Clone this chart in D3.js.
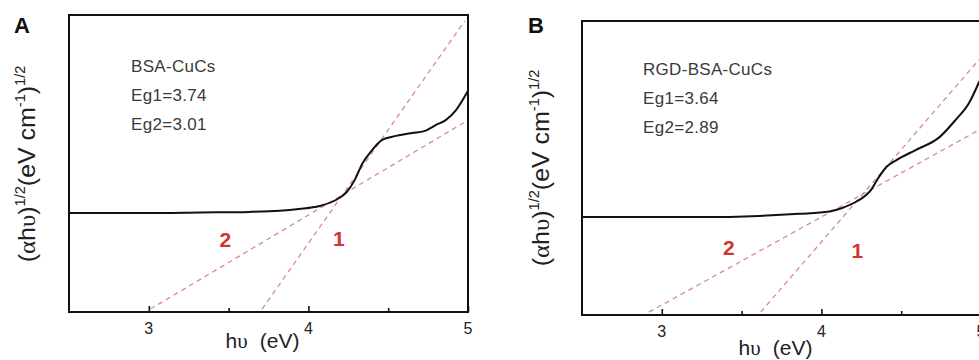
<!DOCTYPE html>
<html lang="en">
<head>
<meta charset="utf-8">
<title>Tauc plots: BSA-CuCs and RGD-BSA-CuCs</title>
<script src="https://cdnjs.cloudflare.com/ajax/libs/d3/7.8.5/d3.min.js"></script>
<style>
  body { margin: 0; background: #fff; }
  svg { display: block; font-family: "Liberation Sans", Arial, sans-serif; }
  .frame { fill: none; stroke: #111; stroke-width: 2; }
  .tick line { stroke: #111; stroke-width: 1.6; }
  .curve { fill: none; stroke: #111; stroke-width: 2; }
  .fit { fill: none; stroke: #d98b8f; stroke-width: 1.3; stroke-dasharray: 5 4; }
  .caption { fill: #3a3a3a; font-size: 17px; letter-spacing: 0.3px; }
  .fitlabel { fill: #d4332e; font-size: 21px; font-weight: bold; text-anchor: middle; }
  .panel { fill: #111; font-size: 22px; font-weight: bold; }
  .ticklabel { fill: #222; font-size: 16px; text-anchor: middle; }
  .axlabel { fill: #222; font-size: 21px; }
  .ylabel { fill: #222; font-size: 24px; }
  .greek { font-family: "Liberation Serif", "DejaVu Serif", serif; }
</style>
</head>
<body>
<svg width="979" height="360"></svg>
<script>
// panel A: BSA-CuCs (y in arbitrary units 0..1)
var energyA = [2.5, 3.0, 3.32, 3.63, 3.82, 3.94, 4.07, 4.175, 4.24, 4.29, 4.34, 4.39, 4.46, 4.55, 4.65, 4.725, 4.80, 4.86, 4.925, 5.0];
var signalA = [0.333, 0.333, 0.335, 0.337, 0.341, 0.347, 0.357, 0.378, 0.404, 0.444, 0.502, 0.539, 0.579, 0.593, 0.603, 0.609, 0.630, 0.646, 0.680, 0.745];
// panel B: RGD-BSA-CuCs
var energyB = [2.5, 3.24, 3.61, 3.86, 4.05, 4.13, 4.22, 4.31, 4.36, 4.41, 4.47, 4.59, 4.74, 4.84, 4.925, 4.99];
var signalB = [0.333, 0.333, 0.337, 0.344, 0.352, 0.364, 0.386, 0.425, 0.469, 0.505, 0.527, 0.561, 0.605, 0.663, 0.721, 0.795];

// linear fits, [start, end] as [energy, signal]
var fit1A = [[3.71, 0.01], [4.98, 0.98]];
var fit2A = [[3.01, 0.01], [5.0, 0.646]];
var fit1B = [[3.62, 0.01], [4.99, 0.87]];
var fit2B = [[2.92, 0.01], [4.99, 0.63]];

var captionsA = ["BSA-CuCs", "Eg1=3.74", "Eg2=3.01"];
var captionsB = ["RGD-BSA-CuCs", "Eg1=3.64", "Eg2=2.89"];

var majorTicks = [3, 4, 5];
var minorTicks = [3.5, 4.5];
var xDomain = [2.5, 5];

var svg = d3.select("svg");

var panels = [
  { id: "A", box: [69, 15, 468, 312], x: energyA, y: signalA, fits: [fit1A, fit2A], captions: captionsA,
    capX: 131, capY: 72, tags: [["2", 3.48, 0.219], ["1", 4.19, 0.222]], yLab: [35, 164], letterX: 14 },
  { id: "B", box: [582, 21, 981, 315], x: energyB, y: signalB, fits: [fit1B, fit2B], captions: captionsB,
    capX: 643, capY: 75, tags: [["2", 3.42, 0.204], ["1", 4.225, 0.194]], yLab: [549, 168], letterX: 528 }
];

panels.forEach(function(p, k) {
  var L = p.box[0], T = p.box[1], R = p.box[2], B = p.box[3];
  var x = d3.scaleLinear().domain(xDomain).range([L, R]);
  var y = d3.scaleLinear().domain([0, 1]).range([B, T]);
  var g = svg.append("g");

  svg.append("clipPath").attr("id", "clip" + k)
    .append("rect").attr("x", L).attr("y", T).attr("width", R - L).attr("height", B - T);

  // dashed fit lines
  p.fits.forEach(function(f) {
    g.append("line").attr("class", "fit").attr("clip-path", "url(#clip" + k + ")")
      .attr("x1", x(f[0][0])).attr("y1", y(f[0][1]))
      .attr("x2", x(f[1][0])).attr("y2", y(f[1][1]));
  });

  // measured curve
  var line = d3.line()
    .x(function(d, i) { return x(p.x[i]); })
    .y(function(d) { return y(d); })
    .curve(d3.curveMonotoneX);
  g.append("path").attr("class", "curve").attr("d", line(p.y));

  // bottom axis, ticks inward
  var ax = g.append("g").attr("transform", "translate(0," + B + ")")
    .call(d3.axisBottom(x).tickValues(majorTicks).tickSizeInner(-6).tickSizeOuter(0).tickFormat(""));
  ax.select(".domain").remove();
  var axm = g.append("g").attr("transform", "translate(0," + B + ")")
    .call(d3.axisBottom(x).tickValues(minorTicks).tickSizeInner(-4).tickSizeOuter(0).tickFormat(""));
  axm.select(".domain").remove();

  g.selectAll(".ticklabel").data(majorTicks).enter().append("text")
    .attr("class", "ticklabel")
    .attr("x", function(d) { return x(d); })
    .attr("y", B + 22)
    .text(function(d) { return d; });

  // frame
  g.append("rect").attr("class", "frame")
    .attr("x", L).attr("y", T).attr("width", R - L).attr("height", B - T);

  // captions
  g.selectAll(".caption").data(p.captions).enter().append("text")
    .attr("class", "caption")
    .attr("x", p.capX)
    .attr("y", function(d, i) { return p.capY + i * 29; })
    .text(function(d) { return d; });

  // fit numbers
  p.tags.forEach(function(t) {
    g.append("text").attr("class", "fitlabel")
      .attr("x", x(t[1])).attr("y", y(t[2])).text(t[0]);
  });

  // panel letter
  g.append("text").attr("class", "panel").attr("x", p.letterX).attr("y", 33).text(p.id);

  // x label
  var xl = g.append("text").attr("class", "axlabel").attr("text-anchor", "middle")
    .attr("x", (L + R) / 2 - 6).attr("y", B + 36 + (k ? 4 : 0));
  xl.append("tspan").text("h");
  xl.append("tspan").attr("class", "greek").text("υ");
  xl.append("tspan").attr("dx", 12).text("(eV)");

  // y label
  var yl = g.append("text").attr("class", "ylabel").attr("text-anchor", "middle")
    .attr("transform", "translate(" + p.yLab[0] + "," + p.yLab[1] + ") rotate(-90) scale(1.04,1)");
  yl.append("tspan").text("(");
  yl.append("tspan").attr("class", "greek").text("α");
  yl.append("tspan").text("h");
  yl.append("tspan").attr("class", "greek").text("υ");
  yl.append("tspan").text(")");
  yl.append("tspan").attr("dy", -10).style("font-size", "14px").text("1/2");
  yl.append("tspan").attr("dy", 10).text("(eV cm");
  yl.append("tspan").attr("dy", -10).style("font-size", "14px").text("-1");
  yl.append("tspan").attr("dy", 10).text(")");
  yl.append("tspan").attr("dy", -10).style("font-size", "14px").text("1/2");
});
</script>
</body>
</html>
